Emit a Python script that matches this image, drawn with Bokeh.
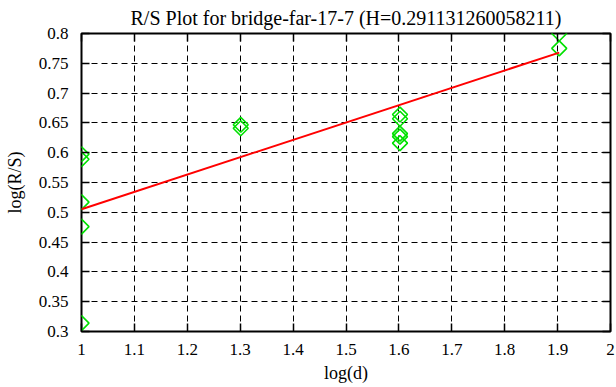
import math
from bokeh.plotting import figure
from bokeh.models import (Range1d, LinearAxis, FixedTicker, NumeralTickFormatter,
                          CustomJSTickFormatter)
from bokeh.embed import file_html
from bokeh.resources import INLINE

# ---- data ----
title_text = "R/S Plot for bridge-far-17-7 (H=0.291131260058211)"
x_label = "log(d)"
y_label = "log(R/S)"

log_d = [1.0, 1.0, 1.0, 1.0, 1.0,
         1.30103, 1.30103,
         1.60206, 1.60206, 1.60206, 1.60206, 1.60206,
         1.90309, 1.90309]
log_rs = [0.5975, 0.589, 0.517, 0.476, 0.314,
          0.6468, 0.641,
          0.664, 0.657, 0.632, 0.627, 0.616,
          0.800, 0.775]

H = 0.291131260058211
intercept = 0.2139

x_ticks = [1.0, 1.1, 1.2, 1.3, 1.4, 1.5, 1.6, 1.7, 1.8, 1.9, 2.0]
y_ticks = [0.3, 0.35, 0.4, 0.45, 0.5, 0.55, 0.6, 0.65, 0.7, 0.75, 0.8]
tick_format = "0.[00]"   # gives 1, 1.1 ... 2 and 0.3, 0.35 ... 0.8

FONT = "Liberation Serif"
FS = "18px"
TICK_FS = "17px"
TITLE_FS = "20px"
GREEN = "#00e000"
RED = "#ff0000"

p = figure(frame_width=529, frame_height=298,
           x_range=Range1d(1.0, 2.0), y_range=Range1d(0.3, 0.8),
           output_backend="svg", toolbar_location=None,
           min_border_left=81, min_border_top=32, min_border_right=6, min_border_bottom=57,
           background_fill_color="white", border_fill_color="white")
p.outline_line_color = "black"
p.outline_line_width = 2

p.title.text = title_text
p.title.text_font = FONT
p.title.text_font_size = TITLE_FS
p.title.text_font_style = "normal"
p.title.text_color = "black"
p.title.text_line_height = 0.8
p.title.align = "center"
p.title.standoff = 9


def style_axis(ax, ticks, show_labels):
    ax.ticker = FixedTicker(ticks=ticks)
    ax.major_tick_in = 8
    ax.major_tick_out = 0
    ax.minor_tick_line_color = None
    ax.major_tick_line_color = "black"
    ax.major_tick_line_width = 1.5
    ax.axis_line_color = None
    ax.major_label_text_font = FONT
    ax.major_label_text_font_size = TICK_FS
    ax.major_label_text_color = "black"
    if show_labels:
        ax.formatter = NumeralTickFormatter(format=tick_format)
    else:
        ax.formatter = CustomJSTickFormatter(code="return ''")
        ax.major_label_standoff = 0


style_axis(p.xaxis[0], x_ticks, True)
style_axis(p.yaxis[0], y_ticks, True)
p.xaxis[0].major_label_standoff = 12
p.yaxis[0].major_label_standoff = 13
for ax, lab, so in ((p.xaxis[0], x_label, 5), (p.yaxis[0], y_label, 11)):
    ax.axis_label = lab
    ax.axis_label_text_font = FONT
    ax.axis_label_text_font_size = FS
    ax.axis_label_text_font_style = "normal"
    ax.axis_label_text_color = "black"
    ax.axis_label_standoff = so

top_ax = LinearAxis()
style_axis(top_ax, x_ticks, False)
p.add_layout(top_ax, "above")
right_ax = LinearAxis()
style_axis(right_ax, y_ticks, False)
p.add_layout(right_ax, "right")

p.xgrid.ticker = FixedTicker(ticks=x_ticks)
p.ygrid.ticker = FixedTicker(ticks=y_ticks)
for g in (p.xgrid[0], p.ygrid[0]):
    g.grid_line_color = "black"
    g.grid_line_width = 1
    g.grid_line_dash = "6 4"

# data points
p.scatter(log_d, log_rs, marker="square", size=10.6, angle=math.pi / 4,
          fill_color=None, line_color=GREEN, line_width=1.6)

# fitted line
fit_x = [min(log_d), max(log_d)]
fit_y = [intercept + H * x for x in fit_x]
p.line(fit_x, fit_y, line_color=RED, line_width=2)

open("out.html", "w").write(file_html(p, INLINE))
